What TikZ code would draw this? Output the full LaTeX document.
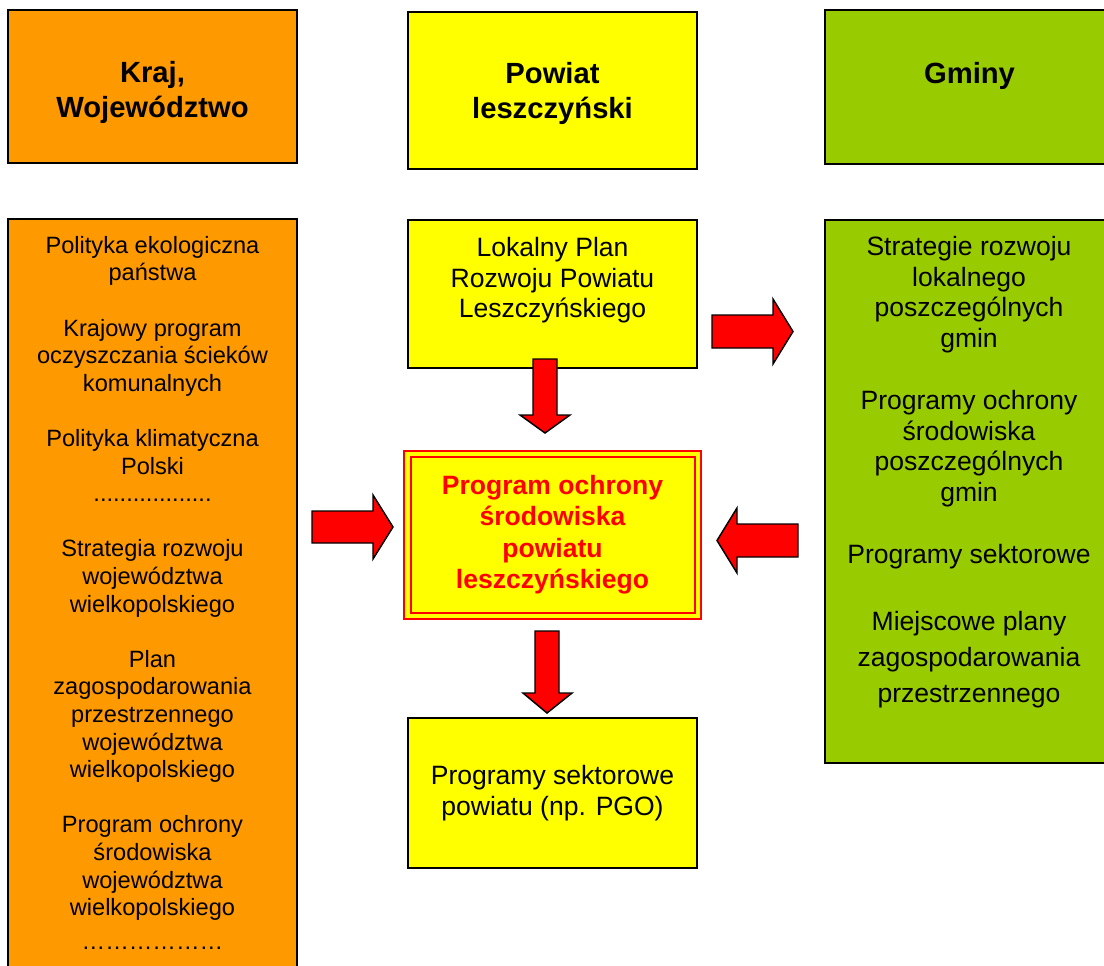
\documentclass[tikz,border=0pt]{standalone}
\usepackage{fontspec}
\setmainfont{Liberation Sans}
\usetikzlibrary{fit}
\definecolor{boxorange}{HTML}{FF9900}
\definecolor{boxyellow}{HTML}{FFFF00}
\definecolor{boxgreen}{HTML}{99CC00}
\definecolor{arrred}{HTML}{FF0000}
\newcommand\firstln[1]{\rule{0pt}{#1}}
\begin{document}
\begin{tikzpicture}[x=0.75pt,y=-0.75pt,
  panel/.style={draw=black, line width=1.2pt, inner sep=0pt},
  titletext/.style={anchor=north, inner sep=0pt, align=center,
    font=\fontsize{21.9pt}{26.25pt}\selectfont\bfseries},
  smalltext/.style={anchor=north, inner sep=0pt, align=center,
    font=\fontsize{17.7pt}{20.7pt}\selectfont},
  bodytext/.style={anchor=north, inner sep=0pt, align=center,
    font=\fontsize{19.9pt}{23.1pt}\selectfont},
  widetext/.style={anchor=north, inner sep=0pt, align=center,
    font=\fontsize{19.9pt}{27pt}\selectfont},
  redtext/.style={anchor=north, inner sep=0pt, align=center, text=arrred,
    font=\fontsize{19.9pt}{23.5pt}\selectfont\bfseries},
  blockarrow/.style={fill=arrred, draw=black, line width=1.1pt, line join=miter}
]
\useasboundingbox (0,0) rectangle (1104,965);
\clip (0,0) rectangle (1104,965);
\fill[white] (0,0) rectangle (1104,965);

% header boxes
\node[panel, fill=boxorange, fit={(8,10) (297,163)}] (kraj) {};
\node[panel, fill=boxyellow, fit={(408,12) (697,169)}] (powiat) {};
\node[panel, fill=boxgreen, fit={(825,10) (1114,164)}] (gminy) {};
\node[titletext] (krajtxt) at (152.5,58) {\firstln{18pt}Kraj,\\Województwo};
\node[titletext] (powiattxt) at (552.5,59) {\firstln{18pt}Powiat\\leszczyński};
\node[titletext] (gminytxt) at (969.5,59) {\firstln{18pt}Gminy};

% content boxes
\node[panel, fill=boxorange, fit={(8,219) (297,990)}] (leftcol) {};
\node[panel, fill=boxyellow, fit={(408,220) (697,368)}] (lokalny) {};
\node[panel, fill=boxgreen, fit={(825,220) (1114,763)}] (rightcol) {};
\node[panel, fill=boxyellow, fit={(408,718) (697,868)}] (sektor) {};

% central double framed box
\node[draw=arrred, fill=boxyellow, line width=1.5pt, inner sep=0pt,
      fit={(404,451) (701,619)}] (program) {};
\node[draw=arrred, line width=2.1pt, inner sep=0pt,
      fit={(411,457) (695,613)}] (programin) {};

% texts
\node[smalltext] (lefttxt) at (152.5,233) {\firstln{15pt}Polityka ekologiczna\\państwa\\[20.7pt]
Krajowy program\\oczyszczania ścieków\\komunalnych\\[20.7pt]
Polityka klimatyczna\\Polski\\..................\\[20.7pt]
Strategia rozwoju\\województwa\\wielkopolskiego\\[20.7pt]
Plan\\zagospodarowania\\przestrzennego\\województwa\\wielkopolskiego\\[20.7pt]
Program ochrony\\środowiska\\województwa\\wielkopolskiego\\[4.5pt]
………………};
\node[bodytext] (lokalnytxt) at (552.5,233.3) {\firstln{17pt}Lokalny Plan\\Rozwoju Powiatu\\Leszczyńskiego};
\node[bodytext] (righttxt) at (969,232.3) {\firstln{17pt}Strategie rozwoju\\lokalnego\\poszczególnych\\gmin\\[23.1pt]
Programy ochrony\\środowiska\\poszczególnych\\gmin\\[23.1pt]
Programy sektorowe};
\node[widetext] (righttxt2) at (969,607.3) {\firstln{17pt}Miejscowe plany\\zagospodarowania\\przestrzennego};
\node[redtext] (programtxt) at (552.5,471.5) {\firstln{17pt}Program ochrony\\środowiska\\powiatu\\leszczyńskiego};
\node[bodytext] (sektortxt) at (552.5,761.3) {\firstln{17pt}Programy sektorowe\\powiatu (np. PGO)};

% block arrows
\draw[blockarrow] (712,315) -- (773,315) -- (773,299) -- (793,331.5) -- (773,364) -- (773,348) -- (712,348) -- cycle;
\draw[blockarrow] (312,511) -- (373,511) -- (373,495) -- (393,527) -- (373,559) -- (373,543) -- (312,543) -- cycle;
\draw[blockarrow] (798,524) -- (737,524) -- (737,508) -- (717,540.5) -- (737,573) -- (737,557) -- (798,557) -- cycle;
\draw[blockarrow] (533,359) -- (557,359) -- (557,415) -- (570,415) -- (545,433) -- (520,415) -- (533,415) -- cycle;
\draw[blockarrow] (535,631) -- (559,631) -- (559,693) -- (572,693) -- (547,713) -- (523,693) -- (535,693) -- cycle;
\end{tikzpicture}
\end{document}
